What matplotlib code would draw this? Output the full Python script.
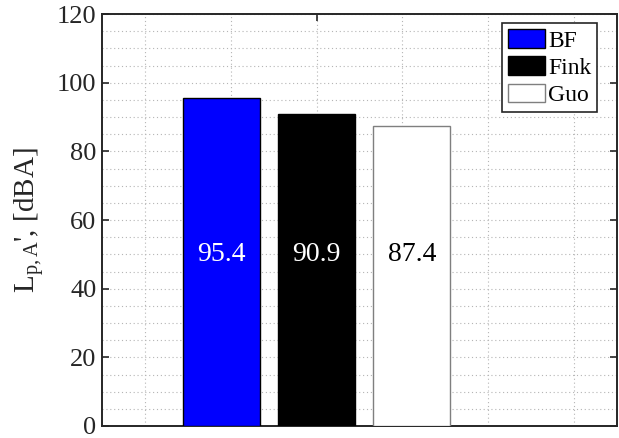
import matplotlib
matplotlib.use('Agg')
import matplotlib.pyplot as plt
from matplotlib.ticker import MultipleLocator, FixedLocator, NullFormatter

plt.rcParams['font.family'] = ['Liberation Serif', 'DejaVu Serif']
plt.rcParams['mathtext.fontset'] = 'custom'
plt.rcParams['mathtext.rm'] = 'Liberation Serif'
plt.rcParams['mathtext.it'] = 'Liberation Serif:italic'

# data
labels = ['BF', 'Fink', 'Guo']
values = [95.4, 90.9, 87.4]
offsets = [-0.222, 0.0, 0.222]
colors = ['#0000ff', '#000000', '#ffffff']
edgecolors = ['#000000', '#000000', '#7f7f7f']
text_colors = ['white', 'white', 'black']
group_x = 1.0
bar_width = 0.18
label_y = 50

axcol = '#262626'

fig = plt.figure(figsize=(6.19, 4.38), dpi=100)
ax = fig.add_axes([0.1648, 0.0274, 0.832, 0.9406])

for lab, v, off, c, ec, tc in zip(labels, values, offsets, colors, edgecolors, text_colors):
    ax.bar(group_x + off, v, width=bar_width, color=c, edgecolor=ec, linewidth=1.0,
           label=lab, zorder=3)
    ax.text(group_x + off, label_y, '%.1f' % v, color=tc, ha='center', va='center',
            fontsize=20, zorder=4)

ax.set_xlim(0.5, 1.7)
ax.set_ylim(0, 120)
ax.xaxis.set_major_locator(FixedLocator([group_x]))
ax.xaxis.set_major_formatter(NullFormatter())
ax.xaxis.set_minor_locator(FixedLocator([0.6, 0.8, 1.2, 1.4, 1.6]))
ax.yaxis.set_major_locator(MultipleLocator(20))
ax.yaxis.set_minor_locator(MultipleLocator(5))

ax.grid(True, which='both', linestyle=(0, (1, 2.5)), color='#b5b5b5', linewidth=0.8, zorder=0)
ax.set_axisbelow(True)

ax.tick_params(which='major', direction='in', length=5, width=1.2, colors=axcol,
               labelsize=19, top=True, right=True, labelcolor=axcol, pad=4)
ax.tick_params(which='minor', length=0)
for s in ax.spines.values():
    s.set_color(axcol)
    s.set_linewidth(1.4)

ax.set_ylabel(r"$\mathrm{L_{p,A}}$', [dBA]", fontsize=21, color=axcol, labelpad=8)

leg = ax.legend(loc='upper right', bbox_to_anchor=(0.962, 0.978), fontsize=17,
                frameon=True, fancybox=False, framealpha=1, edgecolor=axcol,
                borderpad=0.25, labelspacing=0.2, handlelength=1.55, handleheight=0.85,
                handletextpad=0.15, borderaxespad=0.0)
leg.get_frame().set_linewidth(1.2)

fig.savefig('out.png', dpi=100)
